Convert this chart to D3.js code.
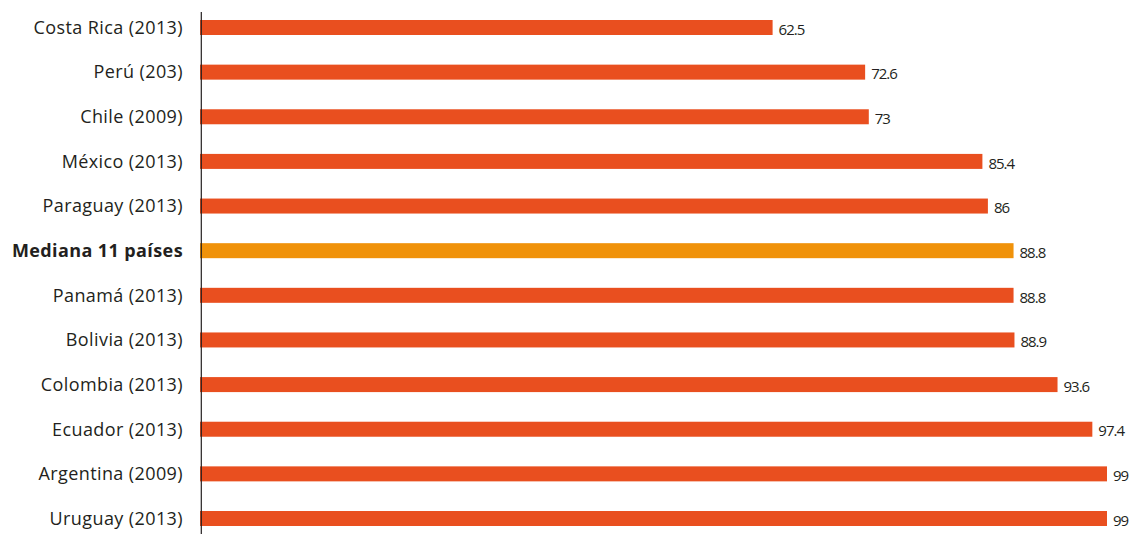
<!DOCTYPE html>
<html><head><meta charset="utf-8">
<script src="https://cdn.jsdelivr.net/npm/d3@7"></script>
<style>
html,body{margin:0;padding:0;background:#fff;}
svg{display:block;}
</style></head>
<body>
<svg id="chart" width="1130" height="534"></svg>
<script>
const categories = ["Costa Rica (2013)","Perú (203)","Chile (2009)","México (2013)","Paraguay (2013)","Mediana 11 países","Panamá (2013)","Bolivia (2013)","Colombia (2013)","Ecuador (2013)","Argentina (2009)","Uruguay (2013)"];
const values = [62.5,72.6,73,85.4,86,88.8,88.8,88.9,93.6,97.4,99,99];
const highlight = ["Mediana 11 países"];

const svg = d3.select("#chart");
const x = d3.scaleLinear().domain([0, 99]).range([200, 1107]);
const y = d3.scaleBand().domain(categories).range([5.18, 540.82])
  .paddingInner(0.664).paddingOuter(0.332).align(0.5);

const data = categories.map((c,i)=>({c, v: values[i]}));

svg.append("g").selectAll("rect").data(data).join("rect")
  .attr("x", x(0))
  .attr("y", d=>y(d.c))
  .attr("width", d=>x(d.v)-x(0))
  .attr("height", y.bandwidth())
  .attr("fill", d=> highlight.includes(d.c) ? "#F0920A" : "#E94F1F");

svg.append("line").attr("x1",201.3).attr("x2",201.3).attr("y1",12).attr("y2",534)
  .attr("stroke","#231F20").attr("stroke-width",1.2);

svg.append("g").selectAll("text").data(data).join("text")
  .attr("x", 183)
  .attr("y", d=>y(d.c)+y.bandwidth()/2)
  .attr("dy","0.35em")
  .attr("text-anchor","end")
  .attr("font-family","'Open Sans', sans-serif")
  .attr("font-size", 18)
  .attr("letter-spacing", 0.4)
  .attr("font-weight", d=> highlight.includes(d.c) ? "bold" : "normal")
  .attr("fill","#231F20")
  .text(d=>d.c);

svg.append("g").selectAll("text").data(data).join("text")
  .attr("x", d=>x(d.v)+6)
  .attr("y", d=>y(d.c)+y.bandwidth()/2+2)
  .attr("dy","0.35em")
  .attr("font-family","'Open Sans', sans-serif")
  .attr("font-size", 15)
  .attr("letter-spacing", -1)
  .attr("fill","#231F20")
  .text(d=>String(d.v));
</script>
</body></html>
